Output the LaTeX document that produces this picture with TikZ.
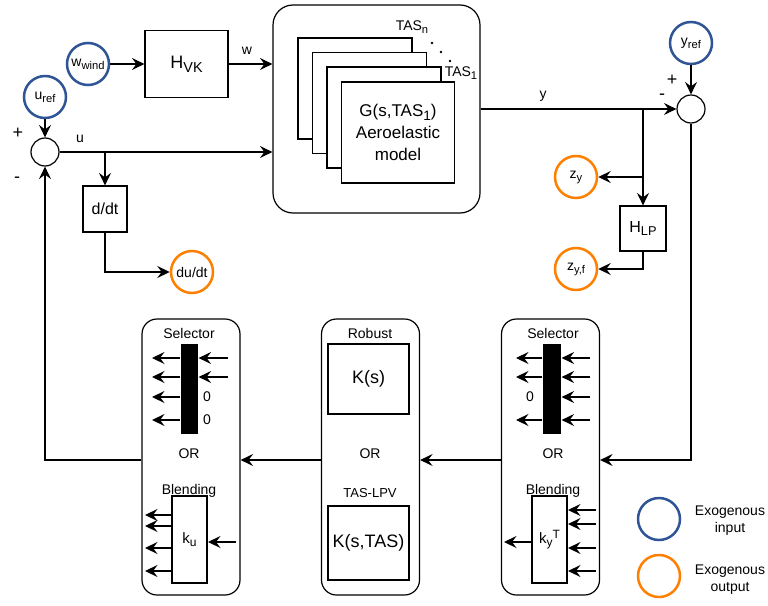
\documentclass[tikz,border=0pt]{standalone}
\usepackage{fontspec}
\setmainfont{Liberation Sans}
\usetikzlibrary{arrows.meta,calc}
\definecolor{inblue}{HTML}{2F5597}
\definecolor{outor}{HTML}{FF8000}
\newcommand\lsub[1]{\raisebox{-0.4ex}{\scalebox{0.8}{#1}}}
\newcommand\lsup[1]{\raisebox{0.7ex}{\scalebox{0.8}{#1}}}
\begin{document}
\begin{tikzpicture}[x=1pt,y=-1pt,line width=1.2pt,
  arr/.style={-{Stealth[length=12.5pt,width=12pt,inset=4.5pt]}},
  blk/.style={draw,fill=white,line width=1.2pt,inner sep=0pt},
  thk/.style={draw,fill=white,line width=2pt,inner sep=0pt,minimum width=35pt,minimum height=87pt,font=\fontsize{15}{17}\selectfont},
  exin/.style={circle,draw=inblue,line width=2.5pt,minimum size=42pt,inner sep=0pt,font=\fontsize{14}{16}\selectfont},
  exout/.style={exin,draw=outor},
  sumc/.style={circle,draw,fill=white,line width=1.2pt,minimum size=28pt,inner sep=0pt},
  lbl/.style={inner sep=0pt,font=\fontsize{14}{16}\selectfont},
  sgn/.style={inner sep=0pt,font=\fontsize{18}{20}\selectfont},
  bigbox/.style={draw,rounded corners=15pt,line width=1.2pt,minimum width=98pt,minimum height=276pt},
  bar/.style={fill=black,inner sep=0pt,minimum width=17pt,minimum height=90pt},
]
\fill[white] (0,0) rectangle (768,605);
\useasboundingbox (0,0) rectangle (768,605);

% top left
\node[exin] (uref) at (45,97) {u\lsub{ref}};
\node[exin] (wwind) at (88,64) {w\lsub{wind}};
\node[blk,minimum width=83pt,minimum height=67pt,font=\fontsize{18}{20}\selectfont] (hvk) at (186.5,64) {H\lsub{VK}};
\node[sumc] (sum1) at (45,152) {};
\node[sgn] (p1) at (18,133) {+};
\node[sgn] (m1) at (17,180) {-};

% aeroelastic block
\node[draw,rounded corners=20pt,line width=1.2pt,minimum width=207pt,minimum height=208pt] (aero) at (376.5,109) {};
\node[blk,minimum width=114pt,minimum height=101pt] (g1) at (355,88.5) {};
\node[blk,minimum width=114pt,minimum height=101pt] (g2) at (369.5,103) {};
\node[blk,minimum width=114pt,minimum height=101pt] (g3) at (384,117.5) {};
\node[blk,minimum width=113pt,minimum height=101pt,align=center,font=\fontsize{17}{22}\selectfont] (g4) at (398,132.5) {G(s,TAS\lsub{1})\\Aeroelastic\\model};
\node[lbl] (tasn) at (412,27) {TAS\lsub{n}};
\node[lbl] (tas1) at (461,73) {TAS\lsub{1}};
\fill (432,43) circle (1.4pt) (441,52) circle (1.4pt) (450,61) circle (1.4pt);

% derivative
\node[blk,minimum width=44pt,minimum height=46pt,font=\fontsize{16}{18}\selectfont] (ddt) at (105,209) {d/dt};
\node[exout] (dudt) at (192,272) {du/dt};

% right top
\node[exin] (yref) at (691,43) {y\lsub{ref}};
\node[sumc] (sum2) at (691,109) {};
\node[sgn] (p2) at (672,80) {+};
\node[sgn] (m2) at (662,97) {-};
\node[blk,minimum width=46pt,minimum height=45pt,font=\fontsize{16}{18}\selectfont] (hlp) at (643,228.5) {H\lsub{LP}};
\node[exout] (zy) at (576,177) {z\lsub{y}};
\node[exout] (zyf) at (576,269) {z\lsub{y,f}};

% connectors top
\draw[arr] (wwind) -- (hvk);
\draw[arr] (hvk.east) -- (aero.west |- hvk.east);
\node[lbl] (wl) at (247,51) {w};
\draw[arr] (uref) -- (sum1);
\draw[arr] (sum1.east) -- (aero.west |- sum1.east);
\node[lbl] (ul) at (80,139) {u};
\coordinate (ubr) at (105,152);
\draw[arr] (ubr) -- (ddt.north);
\draw[arr] (ddt.south) |- (dudt.west);
\draw[arr] (aero.east) -- (sum2.west);
\node[lbl] (yl) at (543,96) {y};
\draw[arr] (yref) -- (sum2);
\coordinate (ybr) at (643,109);
\draw[arr] (ybr) -- (hlp.north);
\draw[arr] (ybr |- zy) -- (zy.east);
\draw[arr] (hlp.south) |- (zyf.east);

% bottom boxes
\node[bigbox] (selU) at (191,457) {};
\node[bigbox] (ctrl) at (370.5,457) {};
\node[bigbox] (selY) at (550.5,457) {};
\coordinate (fb) at (0,460);
\draw[arr] (sum2.south) |- (selY.east |- fb);
\draw[arr] (selY.west |- fb) -- (ctrl.east |- fb);
\draw[arr] (ctrl.west |- fb) -- (selU.east |- fb);
\draw[arr] (selU.west |- fb) -| (sum1.south);

% left selector
\node[lbl] (selUt) at (189,333) {Selector};
\node[bar] (barU) at (189.5,389) {};
\foreach \yy in {358,377,397,420} \draw[arr] (barU.west |- 0,\yy) -- (152,\yy);
\foreach \yy in {358,377} \draw[arr] (228,\yy) -- (barU.east |- 0,\yy);
\node[lbl] (zu1) at (207,397) {0};
\node[lbl] (zu2) at (207,420) {0};
\node[lbl] (oru) at (189,454) {OR};
\node[lbl] (blu) at (189,491) {Blending};
\node[thk] (ku) at (189.5,539.5) {k\lsub{u}};
\foreach \yy in {515,526,548,571} \draw[arr] (ku.west |- 0,\yy) -- (145,\yy);
\draw[arr] (236,542) -- (ku.east |- 0,542);

% controller
\node[lbl] (rob) at (370,333) {Robust};
\node[blk,minimum width=81pt,minimum height=70pt,font=\fontsize{18}{20}\selectfont] (ks) at (368.5,379) {K(s)};
\node[lbl] (orc) at (370,454) {OR};
\node[lbl,font=\fontsize{13}{15}\selectfont] (lpv) at (370,493) {TAS-LPV};
\node[blk,minimum width=81pt,minimum height=74pt,font=\fontsize{18}{20}\selectfont] (kst) at (368.5,543) {K(s,TAS)};

% right selector
\node[lbl] (selYt) at (553,333) {Selector};
\node[bar,minimum width=18pt] (barY) at (552,389) {};
\foreach \yy in {358,377,420} \draw[arr] (barY.west |- 0,\yy) -- (516,\yy);
\foreach \yy in {358,377,397,420} \draw[arr] (590,\yy) -- (barY.east |- 0,\yy);
\node[lbl] (zy1) at (530,397) {0};
\node[lbl] (ory) at (553,454) {OR};
\node[lbl] (bly) at (553,491) {Blending};
\node[thk] (ky) at (549.5,539.5) {k\lsub{y}\lsup{T}};
\foreach \yy in {510,524,548,571} \draw[arr] (596,\yy) -- (ky.east |- 0,\yy);
\draw[arr] (ky.west |- 0,542) -- (504,542);

% legend
\node[exin] (legin) at (659,519) {};
\node[lbl,align=center,font=\fontsize{14}{17}\selectfont] (legint) at (730,521) {Exogenous\\input};
\node[exout] (legout) at (659,576) {};
\node[lbl,align=center,font=\fontsize{14}{17}\selectfont] (legoutt) at (730,580) {Exogenous\\output};
\end{tikzpicture}
\end{document}
